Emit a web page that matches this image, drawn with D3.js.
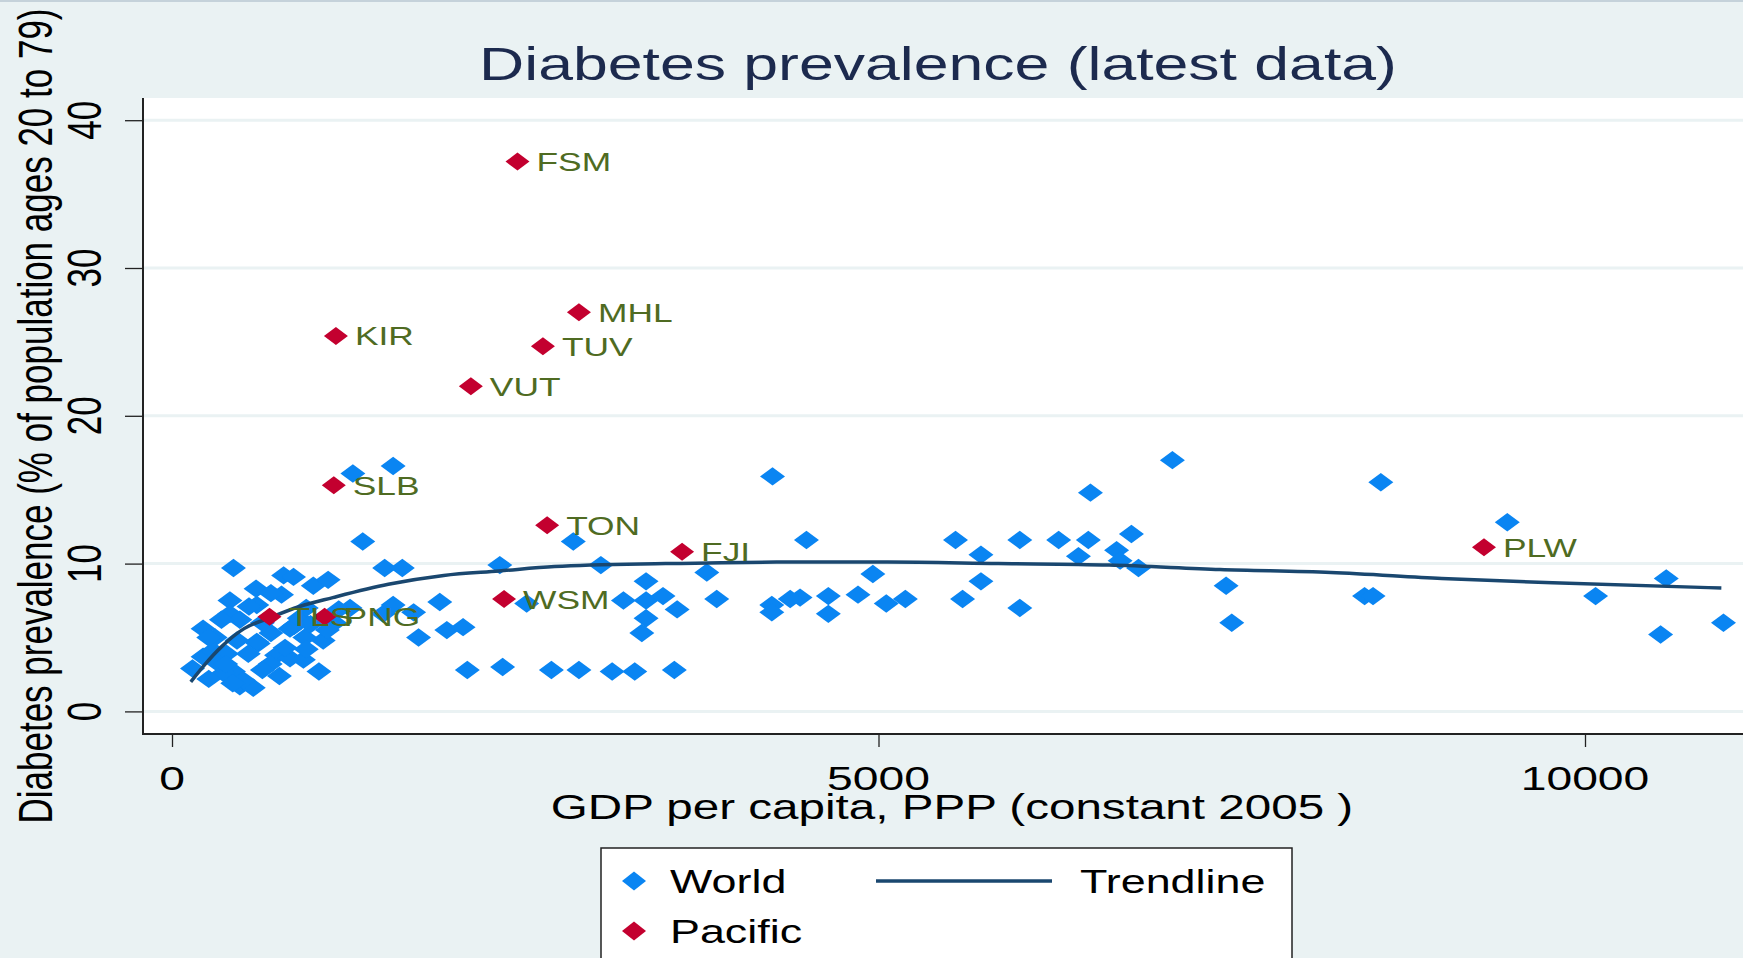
<!DOCTYPE html>
<html>
<head>
<meta charset="utf-8">
<script src="https://cdn.jsdelivr.net/npm/d3@7"></script>
<style>
  body { margin: 0; background: #eaf2f3; overflow: hidden; }
  svg { display: block; font-family: "Liberation Sans", Arial, sans-serif; }
</style>
</head>
<body>
<svg id="chart"></svg>
<script>
// world countries: GDP per capita (PPP) and diabetes prevalence
const worldGdp = [7080, 6500, 4490, 5545, 6000, 6275, 6485, 6790, 5725, 6415, 6685, 6710, 6840, 4960, 5725,
  4445, 4645, 4645, 4855, 5055, 5190, 5595, 6000, 8555, 9450, 7460, 7500, 8440, 8500, 10075, 10575, 10535, 10980,
  4250, 3785, 3355, 3855, 3195, 3355, 3475, 3575, 3355, 3325, 2510, 4245, 4245, 4375, 2840, 2320, 3035,
  1895, 1945, 2060, 2090, 2340, 2685, 2880, 3115, 3275, 3555,
  1280, 1565, 1350, 1505, 1630, 1260, 1565, 1710, 1495, 1745,
  435, 595, 790, 860, 1000, 1105, 775, 410, 600, 410, 480, 220, 1070, 610, 145, 480, 575, 1040, 545,
  835, 940, 600, 460, 305, 740, 835, 930, 695, 220, 435, 505, 365, 290, 385, 865, 700, 430, 320, 260,
  350, 640, 900, 980, 700, 950, 1150, 260, 380, 540, 640, 760, 1100, 800, 950, 1180];
const worldDiab = [17.0, 14.8, 11.6, 11.6, 11.6, 11.6, 11.6, 12.0, 10.6, 10.5, 10.9, 10.2, 9.7, 9.3, 8.8,
  7.7, 7.8, 6.6, 7.9, 7.3, 7.6, 7.6, 7.0, 15.5, 12.8, 8.5, 6.0, 7.8, 7.8, 7.8, 9.0, 5.2, 6.0,
  15.9, 9.4, 8.8, 7.6, 7.5, 7.5, 7.8, 6.9, 6.3, 5.3, 7.3, 7.2, 6.7, 7.6, 11.5, 9.9, 9.9,
  7.4, 5.5, 5.7, 2.8, 3.0, 2.8, 2.8, 2.7, 2.7, 2.8,
  16.1, 16.6, 11.5, 9.7, 9.7, 7.0, 7.2, 6.7, 6.6, 5.0,
  9.7, 8.3, 9.2, 9.1, 8.5, 8.9, 7.9, 7.5, 7.2, 6.6, 6.2, 5.6, 4.8, 4.6, 2.9, 1.7, 1.6, 2.7, 7.1,
  5.6, 5.0, 4.7, 4.8, 5.0, 3.8, 3.6, 3.5, 3.2, 3.7, 2.7, 2.1, 2.6, 4.1, 3.9, 5.8, 5.3, 1.9, 3.3, 5.0,
  6.2, 6.0, 6.3, 5.9, 8.0, 7.0, 6.0, 2.2, 3.2, 3.9, 2.8, 2.4, 5.5, 4.3, 4.2, 6.9];

// pacific countries
const pacificCode = ['FSM', 'MHL', 'KIR', 'TUV', 'VUT', 'SLB', 'TON', 'FJI', 'PLW', 'WSM', 'TLS', 'PNG'];
const pacificGdp = [2445, 2880, 1160, 2625, 2115, 1145, 2655, 3610, 9285, 2350, 690, 1080];
const pacificDiab = [37.2, 27.0, 25.4, 24.7, 22.0, 15.3, 12.6, 10.8, 11.1, 7.6, 6.4, 6.4];

// fitted trendline
const trendGdp = [133, 235, 353, 510, 683, 903, 1138, 1531, 1923, 2315, 2708, 3493, 4278, 5063, 5848, 6632, 7417, 8202, 8987, 9772, 10965];
const trendDiab = [2.0, 3.2, 4.4, 5.6, 6.3, 7.1, 7.7, 8.6, 9.2, 9.5, 9.8, 10.0, 10.1, 10.1, 10.0, 9.9, 9.6, 9.4, 9.0, 8.7, 8.35];

const xTicks = [0, 5000, 10000];
const yTicks = [0, 10, 20, 30, 40];

const W = 1743, H = 958;
const SX = 1.36; // picture is stretched horizontally
const blue = '#0a85f2', red = '#c3002f', navy = '#1a476f', olive = '#4f6b22', bg = '#eaf2f3';

const svg = d3.select('#chart').attr('width', W).attr('height', H);
svg.append('rect').attr('width', W).attr('height', H).attr('fill', bg);
svg.append('rect').attr('width', W).attr('height', 2).attr('fill', '#c5d2da');

const plot = {left: 143, top: 98, right: W, bottom: 734};
const x = d3.scaleLinear().domain([0, 10000]).range([172, 1585]);
const y = d3.scaleLinear().domain([0, 40]).range([711.4, 120.2]);

function txt(g, px, py, str, size, opts = {}) {
  const t = g.append('text')
    .attr('transform', 'translate(' + px + ',' + py + ') scale(' + SX + ',1)' + (opts.rotate ? ' rotate(-90)' : ''))
    .attr('font-size', size)
    .attr('fill', opts.fill || '#000')
    .attr('text-anchor', opts.anchor || 'start')
    .text(str);
  return t;
}

function diamond(w, h) {
  return 'M0,' + (-h) + 'L' + w + ',0L0,' + h + 'L' + (-w) + ',0Z';
}

// plot region
svg.append('rect')
  .attr('x', plot.left).attr('y', plot.top)
  .attr('width', plot.right - plot.left).attr('height', plot.bottom - plot.top)
  .attr('fill', '#fff');

// gridlines
svg.append('g').selectAll('line').data(yTicks).join('line')
  .attr('x1', plot.left).attr('x2', plot.right)
  .attr('y1', d => y(d)).attr('y2', d => y(d))
  .attr('stroke', bg).attr('stroke-width', 3);

// axes
const gx = svg.append('g').attr('transform', 'translate(0,' + plot.bottom + ')')
  .call(d3.axisBottom(x).tickValues(xTicks).tickSize(13).tickSizeOuter(0).tickFormat(d3.format('d')));
gx.select('.domain').remove();
gx.selectAll('line').attr('stroke', '#222').attr('stroke-width', 1.3);
gx.selectAll('text').remove();
xTicks.forEach(d => txt(svg, x(d), 790, d, 34, {anchor: 'middle'}));

const gy = svg.append('g').attr('transform', 'translate(' + plot.left + ',0)')
  .call(d3.axisLeft(y).tickValues(yTicks).tickSize(18).tickSizeOuter(0));
gy.select('.domain').remove();
gy.selectAll('line').attr('stroke', '#222').attr('stroke-width', 1.3);
gy.selectAll('text').remove();
yTicks.forEach(d => txt(svg, 101, y(d), d, 35, {anchor: 'middle', rotate: true}));

svg.append('line').attr('x1', plot.left).attr('x2', plot.left).attr('y1', plot.top).attr('y2', plot.bottom + 1)
  .attr('stroke', '#222').attr('stroke-width', 2);
svg.append('line').attr('x1', plot.left).attr('x2', plot.right).attr('y1', plot.bottom).attr('y2', plot.bottom)
  .attr('stroke', '#222').attr('stroke-width', 2);

// world markers
const world = worldGdp.map((g, i) => ({gdp: g, diab: worldDiab[i]}));
svg.append('g').selectAll('path').data(world).join('path')
  .attr('d', diamond(12.5, 9.2))
  .attr('transform', d => 'translate(' + x(d.gdp) + ',' + y(d.diab) + ')')
  .attr('fill', blue);

// trendline
const trend = trendGdp.map((g, i) => [g, trendDiab[i]]);
svg.append('path')
  .datum(trend)
  .attr('d', d3.line().x(d => x(d[0])).y(d => y(d[1])).curve(d3.curveMonotoneX))
  .attr('fill', 'none').attr('stroke', navy).attr('stroke-width', 3.5);

// pacific markers + labels
const pacific = pacificCode.map((c, i) => ({code: c, gdp: pacificGdp[i], diab: pacificDiab[i]}));
svg.append('g').selectAll('path').data(pacific).join('path')
  .attr('d', diamond(12, 9))
  .attr('transform', d => 'translate(' + x(d.gdp) + ',' + y(d.diab) + ')')
  .attr('fill', red);
const lab = svg.append('g');
pacific.forEach(d => txt(lab, x(d.gdp) + 19, y(d.diab) + 9.5, d.code, 26, {fill: olive}));

// titles
txt(svg, 938, 80, 'Diabetes prevalence (latest data)', 46, {anchor: 'middle', fill: '#1c2a4e'});
txt(svg, 952, 819, 'GDP per capita, PPP (constant 2005 )', 35, {anchor: 'middle'});
txt(svg, 52, 416, 'Diabetes prevalence (% of population ages 20 to 79)', 35, {anchor: 'middle', rotate: true});

// legend
const leg = svg.append('g');
leg.append('rect').attr('x', 601).attr('y', 848).attr('width', 691).attr('height', 140)
  .attr('fill', '#fff').attr('stroke', '#222').attr('stroke-width', 1.5);
leg.append('path').attr('d', diamond(12, 9.5)).attr('transform', 'translate(634,881)').attr('fill', blue);
leg.append('path').attr('d', diamond(12, 9.5)).attr('transform', 'translate(634,931)').attr('fill', red);
leg.append('line').attr('x1', 876).attr('x2', 1052).attr('y1', 881).attr('y2', 881)
  .attr('stroke', navy).attr('stroke-width', 3.5);
txt(leg, 670, 893, 'World', 33);
txt(leg, 670, 943, 'Pacific', 33);
txt(leg, 1080, 893, 'Trendline', 33);
</script>
</body>
</html>
